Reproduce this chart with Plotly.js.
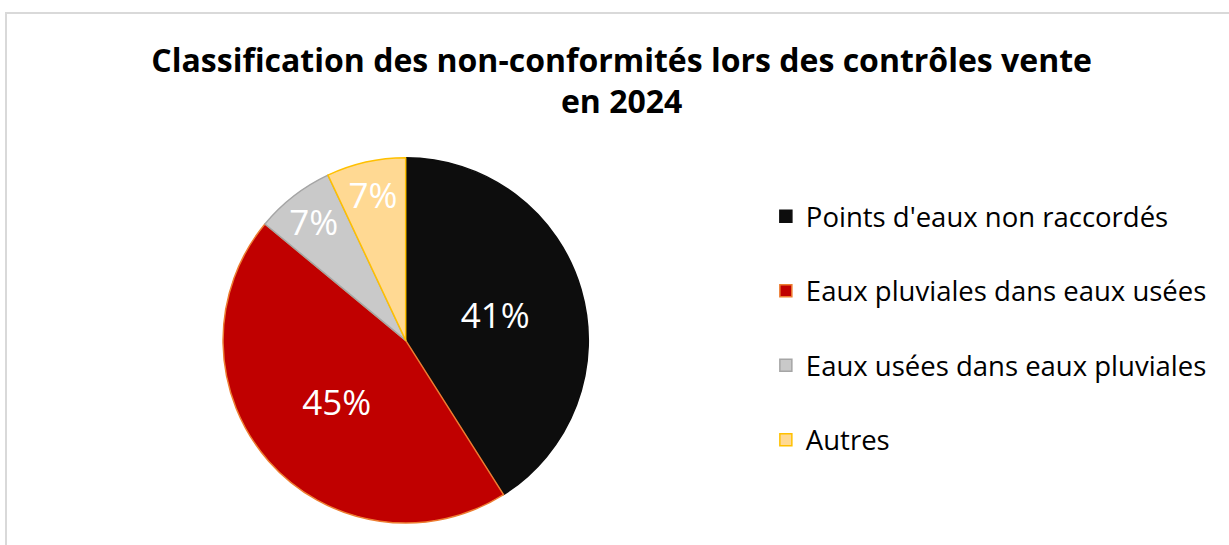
<!DOCTYPE html>
<html>
<head>
<meta charset="utf-8">
<script src="https://cdn.plot.ly/plotly-3.0.1.min.js"></script>
<style>
  body { margin: 0; background: #fff; }
  #frame { position: absolute; left: 5px; top: 12px; width: 1224px; height: 533px;
           border-top: 2px solid #d9d9d9; border-left: 2px solid #d9d9d9; }
  #myDiv { width: 1222px; height: 531px; }
</style>
</head>
<body>
<div id="frame"><div id="myDiv"></div></div>
<script>
// categories and values
var categories = ["Points d'eaux non raccordés", 'Eaux pluviales dans eaux usées', 'Eaux usées dans eaux pluviales', 'Autres'];
var values = [41, 45, 7, 7];
var fills = ['#0d0d0d', '#c00000', '#c9c9c9', '#ffd993'];
var edges = ['#0d0d0d', '#ed7d31', '#a5a5a5', '#ffc000'];

var trace1 = {
  type: 'pie',
  labels: categories.map(c => c + '<br> '),
  values: values,
  sort: false,
  direction: 'clockwise',
  rotation: 0,
  marker: { colors: fills, line: { color: edges, width: 1.5 } },
  textinfo: 'percent',
  textposition: 'inside',
  insidetextorientation: 'horizontal',
  textfont: { family: '"Open Sans", sans-serif', size: 35, color: '#ffffff' },
  hoverinfo: 'label+percent',
  domain: { x: [0.1766, 0.4759], y: [0.0414, 0.7293] }
};

var layout = {
  title: {
    text: '<b>Classification des non-conformités lors des contrôles vente<br>en 2024</b>',
    font: { family: '"Open Sans", sans-serif', size: 32, color: '#000' },
    x: 0.503, xanchor: 'center',
    y: 0.891, yanchor: 'middle', yref: 'container'
  },
  showlegend: true,
  legend: {
    x: 0.621, xanchor: 'left',
    y: 0.665, yanchor: 'top',
    valign: 'top',
    font: { family: '"Open Sans", sans-serif', size: 27.5, color: '#000' }
  },
  uniformtext: { mode: 'show', minsize: 35 },
  margin: { l: 0, r: 0, t: 0, b: 0 },
  plot_bgcolor: 'rgb(255, 255, 255)',
  paper_bgcolor: 'rgb(255, 255, 255)'
};

Plotly.newPlot('myDiv', [trace1], layout, { displayModeBar: false });
</script>
</body>
</html>
